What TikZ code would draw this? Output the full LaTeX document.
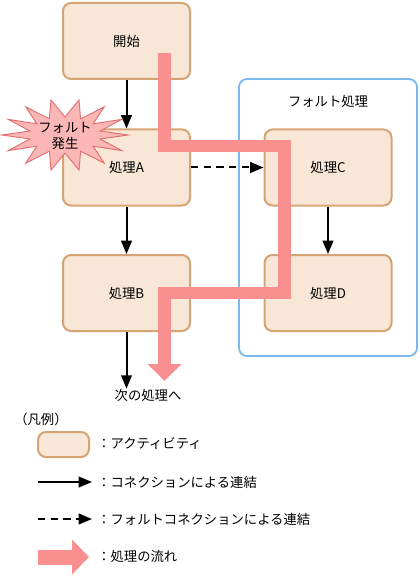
\documentclass[tikz,border=0pt]{standalone}
\usepackage{fontspec}
\setmainfont{Noto Sans CJK JP}
\usetikzlibrary{arrows.meta}

\definecolor{actfill}{RGB}{248,231,215}
\definecolor{actline}{RGB}{214,164,116}
\definecolor{grpline}{RGB}{126,184,238}
\definecolor{flowred}{RGB}{249,143,143}
\definecolor{burstfill}{RGB}{251,182,182}
\definecolor{burstline}{RGB}{226,112,112}

\begin{document}
\begin{tikzpicture}[x=0.75pt, y=-0.75pt, inner sep=0pt, font=\fontsize{10}{12}\selectfont]
    \tikzstyle{act}=[rectangle, rounded corners=6pt, fill=actfill, draw=actline, line width=1.5pt, minimum width=95.25pt, minimum height=57pt]
    \tikzstyle{grp}=[rectangle, rounded corners=6pt, draw=grpline, line width=1.4pt, minimum width=133.5pt, minimum height=207.75pt]
    \tikzstyle{conn}=[-{Triangle[length=10pt,width=8pt]}, line width=1.5pt]
    \tikzstyle{fconn}=[conn, dash pattern=on 5.5pt off 4pt]
    \tikzstyle{flow}=[-{Triangle[length=12.75pt,width=24.75pt]}, draw=flowred, line width=9.5pt, line join=miter]
    \tikzstyle{burst}=[fill=burstfill, draw=burstline, line width=0.7pt]
    \tikzstyle{txt}=[anchor=west]

    \useasboundingbox (0,0) rectangle (420,577);

    % fault group
    \node[grp] (G) at (328,217.5) {};
    \node (Gt) at (328,101) {フォルト処理};

    % activities
    \node[act] (S) at (126.5,41) {開始};
    \node[act] (A) at (126.5,167.5) {処理A};
    \node[act] (B) at (126.5,293) {処理B};
    \node[act] (C) at (328,167.5) {処理C};
    \node[act] (D) at (328,293) {処理D};
    \node (N) at (148,395) {次の処理へ};

    \draw[conn] (S) -- (A);
    \draw[conn] (A) -- (B);
    \draw[conn] (B.south) -- (N.north -| B.south) ;
    \draw[conn] (C) -- (D);
    \draw[fconn] (A.east) -- (C.west);

    % fault occurs
    \draw[burst] plot[variable=\k, samples at={0,...,27}]
        ({65+((mod(\k,2)==0)?63:36)*cos(\k*360/28)}, {135+((mod(\k,2)==0)?36:18)*sin(\k*360/28)}) -- cycle;
    \node[align=center, font=\fontsize{10}{12.5}\selectfont] (F) at (65,136) {フォルト\\発生};

    % flow of processing
    \coordinate (f0) at (164.5,53);
    \coordinate (f1) at (164.5,146);
    \coordinate (f2) at (284.5,146);
    \coordinate (f3) at (284.5,293);
    \coordinate (f4) at (164.5,293);
    \coordinate (f5) at (164.5,381);
    \draw[flow] (f0) -- (f1) -- (f2) -- (f3) -- (f4) -- (f5);

    % legend
    \node[txt] (L0) at (14,419) {（凡例）};
    \node[act, minimum width=38.25pt, minimum height=18.75pt] (L1) at (63.5,444.5) {};
    \node[txt] (L1t) at (97,444) {：アクティビティ};
    \coordinate (L2s) at (38,482);
    \coordinate (L2e) at (92,482);
    \draw[conn] (L2s) -- (L2e);
    \node[txt] (L2t) at (97,482) {：コネクションによる連結};
    \coordinate (L3s) at (38,519);
    \coordinate (L3e) at (92,519);
    \draw[fconn] (L3s) -- (L3e);
    \node[txt] (L3t) at (97,519) {：フォルトコネクションによる連結};
    \coordinate (L4s) at (38,557);
    \coordinate (L4e) at (89,557);
    \draw[flow, line width=11.25pt, -{Triangle[length=12.75pt,width=25.5pt]}] (L4s) -- (L4e);
    \node[txt] (L4t) at (97,556) {：処理の流れ};
\end{tikzpicture}
\end{document}
